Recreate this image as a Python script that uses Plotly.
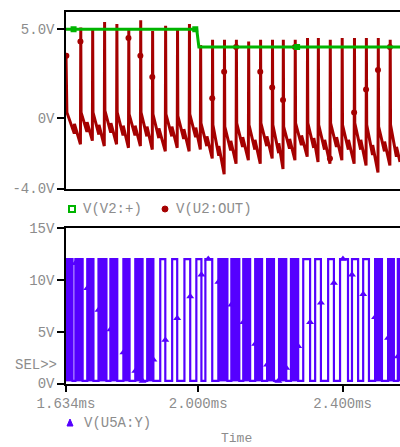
import plotly.graph_objects as go

# ---------------- data (time in ms, values in V) ----------------
x_range = [1.634, 2.559]

# V(V2:+)  (green)
green_t = [1.634, 1.996, 2.002, 2.559]
green_v = [5.0, 5.0, 4.0, 4.0]
green_mk_t = [1.655, 1.992, 2.274]
green_mk_v = [5.0, 5.0, 4.0]

# V(U2:OUT) (red) - per cycle: rise time, value just before rise, peak, value after fall
red_start_t = [1.634, 1.6365]
red_start_v = [3.6, 0.3]
red_rise_t = [1.674, 1.707, 1.740, 1.774, 1.807, 1.840, 1.873, 1.909, 1.942, 1.975,
              2.006, 2.039, 2.072, 2.105, 2.139, 2.172, 2.205, 2.235, 2.268, 2.302,
              2.332, 2.365, 2.398, 2.432, 2.465, 2.498, 2.531]
red_low_v = [-1.5, -1.3, -1.6, -1.5, -1.7, -1.6, -1.8, -1.9, -1.7, -1.9,
             -1.8, -2.3, -3.2, -2.6, -2.4, -2.6, -2.3, -2.9, -2.4, -2.2,
             -2.5, -2.6, -2.4, -2.6, -2.7, -3.1, -2.7]
red_peak_v = [5.1, 5.0, 5.4, 5.3, 5.0, 5.5, 4.9, 5.2, 5.0, 5.3,
              4.1, 4.4, 4.4, 4.4, 4.3, 4.4, 4.4, 4.4, 4.4, 4.5,
              4.5, 4.4, 4.5, 4.5, 4.5, 4.5, 4.4]
red_drop_v = [0.3, 0.3, 0.4, 0.3, 0.2, 0.3, 0.2, 0.2, 0.1, 0.2,
              -0.3, -0.4, -0.5, -0.3, -0.4, -0.3, -0.4, -0.5, -0.3, -0.3,
              -0.4, -0.3, -0.4, -0.3, -0.4, -0.5, -0.4]
# small step in the falling part of every cycle (time, value before, value after)
red_notch_t = [1.657, 1.692, 1.725, 1.758, 1.792, 1.825, 1.858, 1.891, 1.927, 1.960,
               1.993, 2.024, 2.057, 2.090, 2.123, 2.157, 2.190, 2.223, 2.253, 2.286,
               2.320, 2.350, 2.383, 2.416, 2.450, 2.483, 2.516, 2.549]
red_notch_a = [-0.9, -0.8, -0.95, -0.85, -1.0, -1.0, -1.05, -1.15, -1.05, -1.2,
               -1.1, -1.6, -2.15, -1.85, -1.65, -1.8, -1.6, -2.0, -1.75, -1.55,
               -1.7, -1.8, -1.65, -1.8, -1.8, -2.1, -1.9, -2.2]
red_notch_b = [-0.35, -0.25, -0.4, -0.3, -0.45, -0.45, -0.5, -0.6, -0.5, -0.65,
               -0.55, -1.05, -1.6, -1.3, -1.1, -1.25, -1.05, -1.45, -1.2, -1.0,
               -1.15, -1.25, -1.1, -1.25, -1.25, -1.55, -1.35, -1.65]
red_end_t = [2.559]
red_end_v = [-2.5]
red_mk_t = [1.635, 1.674, 1.807, 1.840, 1.873, 2.039, 2.072, 2.105, 2.172, 2.205,
            2.235, 2.268, 2.365, 2.432, 2.465, 2.498, 2.531]
red_mk_v = [3.5, 4.3, 4.5, 3.5, 2.3, 1.1, 2.6, 4.0, 2.6, 1.7,
            1.0, 4.0, -2.3, 0.3, 1.6, 2.7, 4.0]

# V(U5A:Y) (blue) pulse train: start/end of each high pulse, filled or outlined look
blue_hi = 12.0
blue_lo = 0.25
pulse_start = [1.634, 1.660, 1.693, 1.724, 1.757, 1.793, 1.826, 1.859, 1.895, 1.928,
               1.962, 1.995, 2.020, 2.056, 2.092, 2.125, 2.158, 2.191, 2.224, 2.257,
               2.291, 2.324, 2.360, 2.393, 2.426, 2.457, 2.490, 2.526, 2.553]
pulse_end = [1.652, 1.680, 1.710, 1.746, 1.776, 1.810, 1.846, 1.876, 1.909, 1.942,
             1.978, 2.009, 2.039, 2.081, 2.114, 2.144, 2.177, 2.210, 2.244, 2.277,
             2.310, 2.340, 2.376, 2.415, 2.443, 2.473, 2.509, 2.542, 2.570]
pulse_solid = [1, 1, 1, 1, 1, 1, 1, 1, 0, 0,
               0, 0, 0, 1, 1, 1, 1, 1, 1, 1,
               0, 0, 0, 0, 0, 0, 1, 1, 1]
blue_mk_t = [1.6345, 1.660, 1.693, 1.724, 1.757, 1.793, 1.826, 1.846, 1.876, 1.909,
             1.942, 1.978, 2.009, 2.028, 2.056, 2.092, 2.125, 2.158, 2.191, 2.222,
             2.244, 2.277, 2.310, 2.340, 2.376, 2.401, 2.426, 2.457, 2.490, 2.526, 2.553]
blue_mk_v = [11.0, 11.6, 9.2, 7.1, 5.2, 3.0, 1.2, 0.25, 2.3, 4.2,
             6.3, 8.4, 10.5, 12.0, 9.8, 7.6, 5.9, 3.8, 1.8, 0.25,
             1.5, 3.6, 5.9, 7.8, 9.7, 12.0, 10.5, 8.6, 6.4, 4.4, 2.6]

top_ticks = [-4, 0, 5]
top_ticktext = ["-4.0V", "0V", "5.0V"]
bot_ticks = [0, 5, 10, 15]
bot_ticktext = ["0V", "5V", "10V", "15V"]
x_ticks = [1.634, 2.0, 2.4]
x_ticktext = ["1.634ms", "2.000ms", "2.400ms"]

# ---------------- build ----------------
RED = "#a50000"
GREEN = "#00b400"
BLUE = "#5500ff"
GRAY = "#8c8c8c"
FONT = "Liberation Mono"
W, H = 400, 447

red_x = list(red_start_t)
red_y = list(red_start_v)
eps = 0.0009
for k, (t, lo, pk, dr) in enumerate(zip(red_rise_t, red_low_v, red_peak_v, red_drop_v)):
    red_x += [red_notch_t[k], red_notch_t[k] + 0.0004]
    red_y += [red_notch_a[k], red_notch_b[k]]
    red_x += [t, t + eps, t + 2 * eps]
    red_y += [lo, pk, dr]
red_x += [red_notch_t[-1], red_notch_t[-1] + 0.0004]
red_y += [red_notch_a[-1], red_notch_b[-1]]
red_x += red_end_t
red_y += red_end_v

blue_x, blue_y = [], []
fill_x, fill_y = [], []
for i, (s, e, solid) in enumerate(zip(pulse_start, pulse_end, pulse_solid)):
    if i == 0:
        blue_x += [s, s + 0.0005, e, e]
        blue_y += [11.0, blue_hi, blue_hi, blue_lo]
    else:
        blue_x += [s, s, e, e]
        blue_y += [blue_lo, blue_hi, blue_hi, blue_lo]
    if solid:
        fill_x += [s, s, e, e, s, None]
        fill_y += [blue_lo, blue_hi, blue_hi, blue_lo, blue_lo, None]

fig = go.Figure()
fig.add_trace(go.Scatter(x=red_x, y=red_y, mode="lines", line=dict(color=RED, width=3),
                         xaxis="x", yaxis="y", showlegend=False))
fig.add_trace(go.Scatter(x=red_mk_t, y=red_mk_v, mode="markers",
                         marker=dict(symbol="circle", size=6, color=RED),
                         xaxis="x", yaxis="y", showlegend=False))
fig.add_trace(go.Scatter(x=green_t, y=green_v, mode="lines", line=dict(color=GREEN, width=3),
                         xaxis="x", yaxis="y", showlegend=False))
fig.add_trace(go.Scatter(x=green_mk_t, y=green_mk_v, mode="markers",
                         marker=dict(symbol="square", size=6, color=GREEN),
                         xaxis="x", yaxis="y", showlegend=False))

fig.add_trace(go.Scatter(x=fill_x, y=fill_y, mode="lines", fill="toself", fillcolor=BLUE,
                         line=dict(color=BLUE, width=1), xaxis="x2", yaxis="y2", showlegend=False))
fig.add_trace(go.Scatter(x=blue_x, y=blue_y, mode="lines", line=dict(color=BLUE, width=2.2),
                         xaxis="x2", yaxis="y2", showlegend=False))
fig.add_trace(go.Scatter(x=blue_mk_t, y=blue_mk_v, mode="markers",
                         marker=dict(symbol="triangle-up", size=7, color=BLUE),
                         xaxis="x2", yaxis="y2", showlegend=False))

def py(p):
    return 1 - p / H

def px(p):
    return p / W

axis_common = dict(showgrid=False, zeroline=False, showline=True, linecolor="black",
                   automargin=False, tickcolor="black",
                   tickfont=dict(family=FONT, size=14, color=GRAY))

fig.update_layout(
    width=W, height=H, margin=dict(l=0, r=0, t=0, b=0, pad=0, autoexpand=False),
    paper_bgcolor="white", plot_bgcolor="white", showlegend=False,
    xaxis=dict(domain=[px(66), 1], range=x_range, anchor="y", showticklabels=False,
               ticks="", linewidth=2, mirror=True, **axis_common),
    yaxis=dict(domain=[py(188.5), py(11.5)], range=[-4, 6], anchor="x",
               tickvals=top_ticks, ticktext=top_ticktext, ticks="outside", ticklen=7,
               tickwidth=2, linewidth=1.5, **axis_common),
    xaxis2=dict(domain=[px(66), 1], range=x_range, anchor="y2", tickvals=x_ticks,
                ticktext=x_ticktext, ticks="outside", ticklen=6, tickwidth=2,
                linewidth=2, mirror=True, **axis_common),
    yaxis2=dict(domain=[py(383.5), py(228)], range=[0, 15], anchor="x2",
                tickvals=bot_ticks, ticktext=bot_ticktext, ticks="outside", ticklen=7,
                tickwidth=2, linewidth=1.5, **axis_common),
)

def txt(x, y, s, anchor="left", size=14):
    fig.add_annotation(x=px(x), y=py(y), xref="paper", yref="paper", text=s, showarrow=False,
                       xanchor=anchor, yanchor="middle",
                       font=dict(family=FONT, size=size, color=GRAY))

txt(59, 365, "SEL&gt;&gt;", anchor="right")
txt(81, 209, "V(V2:+)")
txt(174, 209, "V(U2:OUT)")
txt(82, 423, "V(U5A:Y)")
txt(236, 438, "Time", anchor="center", size=13)

# legend glyphs
fig.add_shape(type="rect", xref="paper", yref="paper", x0=px(69), x1=px(75), y0=py(212), y1=py(206),
              line=dict(color=GREEN, width=2), fillcolor="white")
fig.add_shape(type="circle", xref="paper", yref="paper", x0=px(162), x1=px(168), y0=py(212), y1=py(206),
              line=dict(color=RED, width=1), fillcolor=RED)
fig.add_shape(type="path", xref="paper", yref="paper",
              path=f"M {px(67)} {py(426)} L {px(73)} {py(426)} L {px(70)} {py(419)} Z",
              line=dict(color=BLUE, width=1), fillcolor=BLUE)

fig.write_html("out.html")
